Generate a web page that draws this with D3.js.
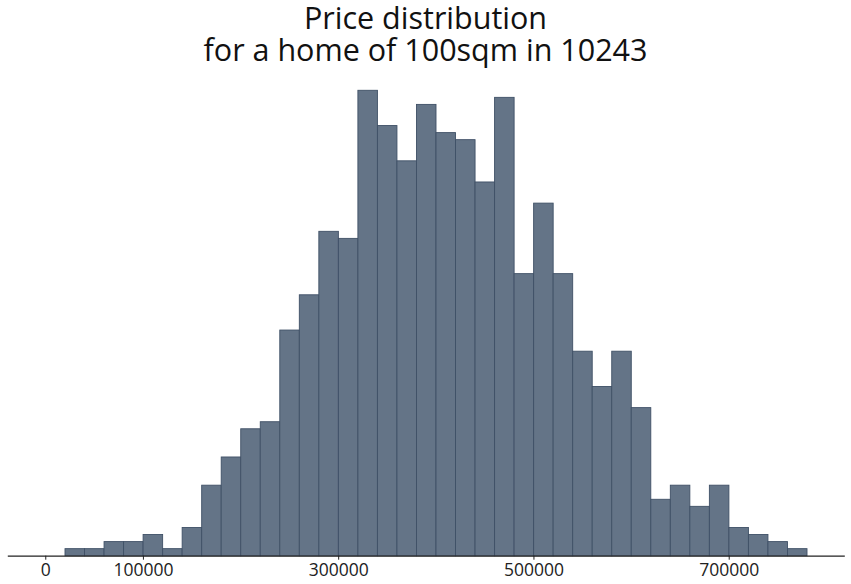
<!DOCTYPE html>
<html>
<head>
<meta charset="utf-8">
<script src="https://cdn.jsdelivr.net/npm/d3@7"></script>
<style>
  body { margin: 0; background: #fff; }
  svg { display: block; }
  text { font-variant-ligatures: none; }
</style>
</head>
<body>
<svg id="chart" width="851" height="584"></svg>
<script>
const width = 851;
const height = 584;

// bin edges (price) and counts
const binEdges = [20200, 40200, 60200, 80200, 100200, 120200, 140200, 160200, 180200, 200200,
  220200, 240200, 260200, 280200, 300200, 320200, 340200, 360200, 380200, 400200,
  420200, 440200, 460200, 480200, 500200, 520200, 540200, 560200, 580200, 600200,
  620200, 640200, 660200, 680200, 700200, 720200, 740200, 760200, 780200];
const counts = [1, 1, 2, 2, 3, 1, 4, 10, 14, 18, 19, 32, 37, 46, 45, 66, 61, 56, 64, 60,
  59, 53, 65, 40, 50, 40, 29, 24, 29, 21, 8, 10, 7, 10, 4, 3, 2, 1];
const tickValues = [0, 100000, 300000, 500000, 700000];
const titleLines = ["Price distribution", "for a home of 100sqm in 10243"];

const bins = counts.map((c, i) => ({x0: binEdges[i], x1: binEdges[i + 1], n: c}));

const svg = d3.select("#chart");

const x = d3.scaleLinear()
  .domain([-38900, 818400])
  .range([7.3, 844.3]);

const y = d3.scaleLinear()
  .domain([0, 66])
  .range([555.7, 90.3]);

svg.append("g")
  .selectAll("rect")
  .data(bins)
  .enter().append("rect")
  .attr("x", d => x(d.x0))
  .attr("width", d => x(d.x1) - x(d.x0))
  .attr("y", d => y(d.n))
  .attr("height", d => y(0) - y(d.n))
  .style("fill", "#647487")
  .style("stroke", "#3f5066")
  .style("stroke-width", 0.9);

const xAxis = svg.append("g")
  .attr("transform", `translate(0, ${y(0)})`)
  .call(d3.axisBottom(x).tickValues(tickValues).tickFormat(d3.format("d")).tickSize(4).tickSizeOuter(0));

xAxis.select(".domain").attr("stroke", "#222").attr("stroke-width", 1.2);
xAxis.selectAll(".tick line").attr("stroke", "#222");
xAxis.selectAll(".tick text")
  .attr("dy", "0.75em")
  .style("font-family", "'Open Sans', sans-serif")
  .style("font-size", "17.5px")
  .style("fill", "#222");

svg.append("text")
  .attr("text-anchor", "middle")
  .style("font-family", "'Open Sans', sans-serif")
  .style("font-size", "30.5px")
  .style("fill", "#111")
  .selectAll("tspan")
  .data(titleLines)
  .enter().append("tspan")
  .attr("x", 425.5)
  .attr("y", (d, i) => 28.5 + i * 32)
  .text(d => d);
</script>
</body>
</html>
